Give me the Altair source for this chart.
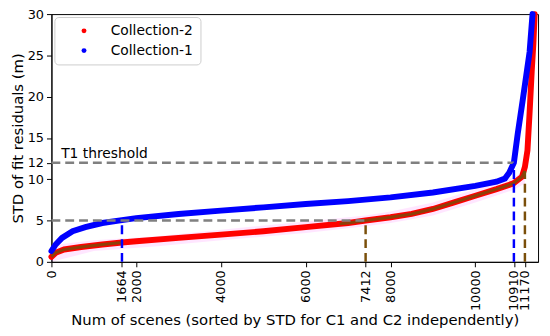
import altair as alt
import pandas as pd

# ---- data ----
c1_x = [0, 100, 250, 500, 800, 1200, 1664, 2000, 3000, 4000, 5000, 6000, 7000, 8000,
        9000, 10000, 10500, 10700, 10800, 10910, 11000, 11116, 11200, 11280, 11350]
c1_y = [1.3, 2.1, 2.9, 3.7, 4.2, 4.7, 5.05, 5.3, 5.8, 6.2, 6.6, 7.0, 7.35, 7.8,
        8.4, 9.2, 9.7, 10.1, 10.8, 12.0, 15.5, 19.5, 22.5, 25.4, 30.0]

c2_x = [0, 100, 300, 700, 1200, 1664, 2000, 3000, 4000, 5000, 6000, 7000, 7412, 8000,
        8500, 9000, 9500, 10000, 10500, 10900, 11100, 11170, 11230, 11280, 11330, 11370, 11400]
c2_y = [0.6, 1.1, 1.5, 1.8, 2.1, 2.35, 2.5, 2.9, 3.3, 3.7, 4.2, 4.7, 5.0, 5.4,
        5.8, 6.4, 7.2, 8.0, 8.8, 9.5, 10.3, 11.5, 13.5, 18.0, 23.0, 26.5, 30.0]

# brown overlay on the Collection-2 curve (two visible stretches)
br_x = [0, 100, 300, 700, 1200, 1664, 6800, 7000, 7412, 8000, 8500, 9000, 9500, 10000, 10500, 10900, 11100, 11170]
br_y = [0.6, 1.1, 1.5, 1.8, 2.1, 2.35, 4.6, 4.7, 5.0, 5.4, 5.8, 6.4, 7.2, 8.0, 8.8, 9.5, 10.3, 11.0]
br_seg = ["a"] * 6 + ["b"] * 12

# faint pink band around Collection-2
pk_x = [0, 1000, 2500, 4000, 6000, 7412, 8000, 9000, 10000, 10900, 11170]
pk_lo = [0.0, 1.3, 1.9, 2.6, 3.5, 4.3, 4.7, 5.6, 7.2, 8.7, 9.5]
pk_hi = [2.0, 2.6, 3.1, 3.9, 4.9, 5.6, 6.1, 7.2, 8.8, 10.2, 11.0]

series = ["Collection-2", "Collection-1"]
series_colors = ["red", "blue"]

tick_x = [0, 1664, 2000, 4000, 6000, 7412, 8000, 10000, 10910, 11170]
tick_y = [0, 5, 10, 12, 15, 20, 25, 30]

h_y = [12, 5]
h_xend = [10910, 7412]
v_x = [1664, 7412, 10910, 11170]
v_top = [5, 5, 12, 11.0]
v_col = ["blue", "#7a4f0a", "blue", "#7a4f0a"]

ann_text = ["T1 threshold"]
ann_x = [230]
ann_y = [12.55]

x_title = "Num of scenes (sorted by STD for C1 and C2 independently)"
y_title = "STD of fit residuals (m)"

# ---- tables ----
df1 = pd.DataFrame({"x": c1_x, "y": c1_y, "s": series[1]})
df2 = pd.DataFrame({"x": c2_x, "y": c2_y, "s": series[0]})
dfall = pd.concat([df2, df1], ignore_index=True)
dfbr = pd.DataFrame({"x": br_x, "y": br_y, "g": br_seg})
dfpk = pd.DataFrame({"x": pk_x, "lo": pk_lo, "hi": pk_hi})
dfh = pd.DataFrame({"y": h_y, "x0": [0] * len(h_y), "x1": h_xend})
dfv = pd.DataFrame({"x": v_x, "y0": [0] * len(v_x), "y1": v_top, "c": v_col})
dfa = pd.DataFrame({"x": ann_x, "y": ann_y, "t": ann_text})

FONT = "DejaVu Sans"
xs = alt.Scale(domain=[0, 11480], nice=False, zero=False)
ys = alt.Scale(domain=[0, 30], nice=False, zero=False)
common = dict(grid=False, tickSize=5, labelFontSize=13, titleFontSize=15,
              titleFontWeight="normal", domainColor="black", tickColor="black",
              labelColor="black", titleColor="black", labelFlush=False,
              labelOverlap=False, labelBound=False, format="d")
xaxis = alt.Axis(values=tick_x, labelAngle=270, titlePadding=2, labelPadding=3, **common)
yaxis = alt.Axis(values=tick_y, titlePadding=2, labelPadding=3, **common)


def X(f="x"):
    return alt.X(f, type="quantitative", scale=xs, axis=xaxis, title=x_title)


def Y(f="y"):
    return alt.Y(f, type="quantitative", scale=ys, axis=yaxis, title=y_title)


band = alt.Chart(dfpk).mark_area(color="#ff66ff", opacity=0.16).encode(
    x=X(), y=Y("lo"), y2="hi")

red_line = alt.Chart(df2).mark_line(color="red", strokeWidth=6, strokeCap="round").encode(
    x=X(), y=Y())
blue_line = alt.Chart(df1).mark_line(color="blue", strokeWidth=6, strokeCap="round").encode(
    x=X(), y=Y())
brown_line = alt.Chart(dfbr).mark_line(color="#7a4a0a", strokeWidth=3, opacity=0.85).encode(
    x=X(), y=Y(), detail="g:N")

pts = alt.Chart(dfall).mark_circle(size=18, opacity=1).encode(
    x=X(), y=Y(),
    color=alt.Color("s:N", scale=alt.Scale(domain=series, range=series_colors),
                    legend=alt.Legend(title=None, orient="none", legendX=3, legendY=3,
                                      symbolType="circle", symbolSize=25,
                                      labelFontSize=14, labelFont=FONT, labelColor="black",
                                      padding=7, strokeColor="#cccccc", fillColor="white",
                                      cornerRadius=4, rowPadding=6, symbolOffset=16,
                                      labelOffset=20)))

hrules = alt.Chart(dfh).mark_rule(color="#808080", strokeWidth=2.5, strokeDash=[9, 5]).encode(
    x=X("x0"), x2="x1", y=Y())
vrules = alt.Chart(dfv).mark_rule(strokeWidth=2.5, strokeDash=[9, 5]).encode(
    x=X(), y=Y("y0"), y2="y1", color=alt.Color("c:N", scale=None))

label = alt.Chart(dfa).mark_text(
    align="left", baseline="alphabetic", fontSize=14, font=FONT, color="black").encode(
    x=X(), y=Y(), text="t:N")

chart = alt.layer(band, red_line, pts, blue_line, brown_line, hrules, vrules, label).properties(
    width=493, height=251,
    autosize=alt.AutoSizeParams(type="none"),
    padding={"left": 44, "top": 4, "right": 4, "bottom": 76},
).configure(font=FONT).configure_axis(labelOverlap=False).configure_view(
    stroke="black", strokeWidth=1)

chart.save("out.html", embed_options={"renderer": "svg", "actions": False})
